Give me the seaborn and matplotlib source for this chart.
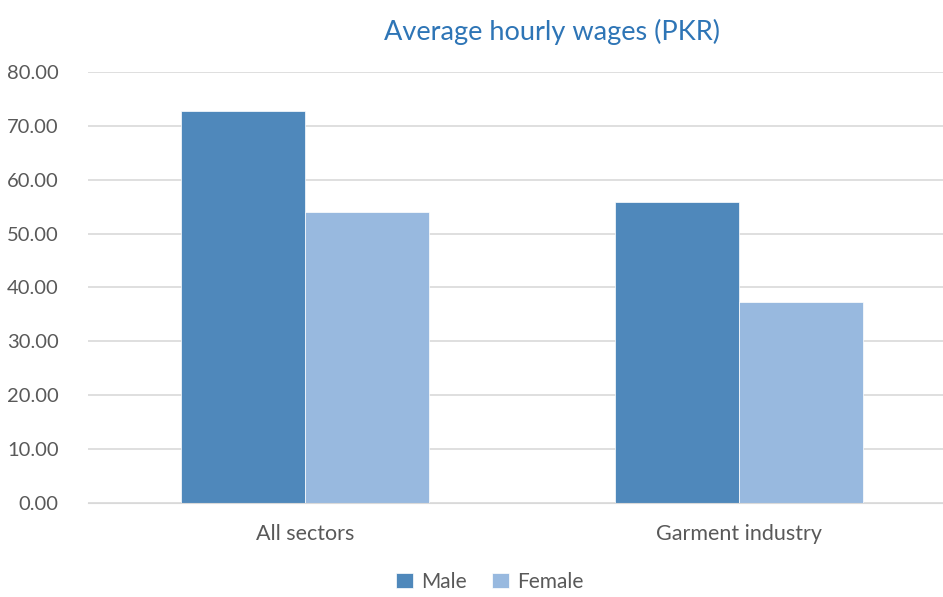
import matplotlib
matplotlib.use("Agg")
import matplotlib.pyplot as plt
import seaborn as sns
import pandas as pd

# dados do gráfico
categories = ["All sectors", "Garment industry"]
male = [72.7, 55.9]
female = [54.0, 37.3]
series = ["Male", "Female"]
colors = ["#4F88BB", "#98B9DF"]

df = pd.DataFrame({
    "category": categories * 2,
    "sex": ["Male"] * len(male) + ["Female"] * len(female),
    "wage": male + female,
})

sns.set_style("white")
plt.rcParams["font.family"] = ["Lato", "DejaVu Sans"]

fig = plt.figure(figsize=(9.43, 5.97), dpi=100)
ax = fig.add_axes([0.0933, 0.1575, 0.9067, 0.7219])

sns.barplot(data=df, x="category", y="wage", hue="sex", hue_order=series,
            palette=colors, width=0.57, saturation=1, ax=ax,
            edgecolor="white", linewidth=0.5)

ax.set_ylim(0, 80)
ax.set_yticks(range(0, 81, 10))
ax.set_yticklabels([f"{v:.2f}" for v in range(0, 81, 10)])
ax.set_xlim(-0.5, 1.47)
ax.yaxis.grid(True, color="#D9D9D9", linewidth=1.2)
ax.set_axisbelow(True)
for s in ["top", "right", "left"]:
    ax.spines[s].set_visible(False)
ax.spines["bottom"].set_color("#D9D9D9")
ax.tick_params(axis="both", length=0, labelcolor="#595959")
ax.tick_params(axis="x", labelsize=15.5, pad=15)
ax.tick_params(axis="y", labelsize=14.5, pad=21)
ax.set_xlabel("")
ax.set_ylabel("")

fig.suptitle("Average hourly wages (PKR)", x=0.585, y=0.968,
             fontsize=19.5, color="#2E75B6")

handles, labels = ax.get_legend_handles_labels()
ax.legend(handles, labels, loc="lower center", bbox_to_anchor=(0.47, -0.235),
          ncol=2, frameon=False, fontsize=15, labelcolor="#595959", borderpad=0.1,
          handlelength=0.8, handleheight=0.8, handletextpad=0.4, columnspacing=1.2)

fig.savefig("out.png", dpi=100)
